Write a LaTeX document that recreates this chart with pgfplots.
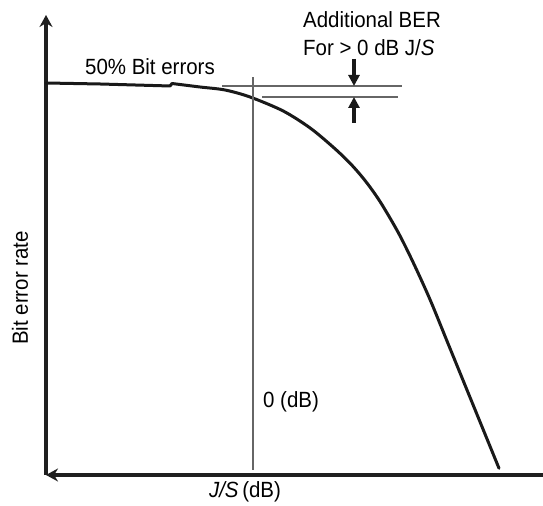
\documentclass[border=0pt]{standalone}
\usepackage{pgfplots}
\pgfplotsset{compat=1.18}
\usepackage{fontspec}
\setmainfont{Liberation Sans}[FakeStretch=0.93]
\usetikzlibrary{arrows.meta}
\begin{document}
\begin{tikzpicture}[font=\fontsize{22bp}{26bp}\selectfont]
\begin{axis}[
  scale only axis,
  width=497bp, height=460bp,
  xmin=46, xmax=543, ymin=0, ymax=460,
  axis lines=left,
  axis line style={line width=3.6bp, black!88},
  x axis line style={{Stealth[length=12bp,width=13bp]}-},
  y axis line style={-{Stealth[length=12bp,width=13bp]}},
  xtick=\empty, ytick=\empty,
  clip=false,
  label style={font=\fontsize{22bp}{26bp}\selectfont},
  xlabel={\textit{J/S}\,(dB)},
  xlabel style={at={(rel axis cs:0.4004,-0.037)}, anchor=center},
  ylabel={Bit error rate},
  ylabel style={at={(rel axis cs:-0.0523,0.4065)}, anchor=center},
]
% BER curve: flat part
\addplot[line width=3bp, black!90, line join=round, line cap=round] coordinates {
(46,392) (100,391) (170,389) (172,391.5)
};
% BER curve: falling part
\addplot[line width=3bp, black!90, line join=round, line cap=round, smooth, tension=0.5] coordinates {
(172,391.5) (200,388) (225,385) (250,378) (283,364.1) (310,347.1) (333,328) (350,311.8)
(365,294.5) (380,273.5) (398,242.9) (413,212.9) (430,175.5) (448,131.5) (465,89.9) (482,48.3) (499,6.7)
};
% 0 dB vertical line
\addplot[line width=1.2bp, black!60] coordinates {(253,5) (253,398)};
% reference horizontal lines
\addplot[line width=1.2bp, black!60] coordinates {(222,389) (402,389)};
\addplot[line width=1.2bp, black!60] coordinates {(262,378) (398,378)};
% annotation arrows
\addplot[line width=4bp, black!90, -{Triangle[length=11bp,width=11bp]}] coordinates {(354,416) (354,389)};
\addplot[line width=4bp, black!90, -{Triangle[length=11bp,width=11bp]}] coordinates {(354,352) (354,378)};
% texts
\node[anchor=center] at (axis cs:150,408) {50\% Bit errors};
\node[anchor=west, inner sep=0pt] at (axis cs:303,455) {Additional BER};
\node[anchor=west, inner sep=0pt] at (axis cs:303,427) {For > 0 dB J/\textit{S}};
\node[anchor=west, inner sep=0pt] at (axis cs:263,73) {0 (dB)};
\coordinate (BL) at (axis cs:0,-31);
\coordinate (TR) at (axis cs:543,475);
\end{axis}
\pgfresetboundingbox
\path[use as bounding box] (BL) rectangle (TR);
\end{tikzpicture}
\end{document}
